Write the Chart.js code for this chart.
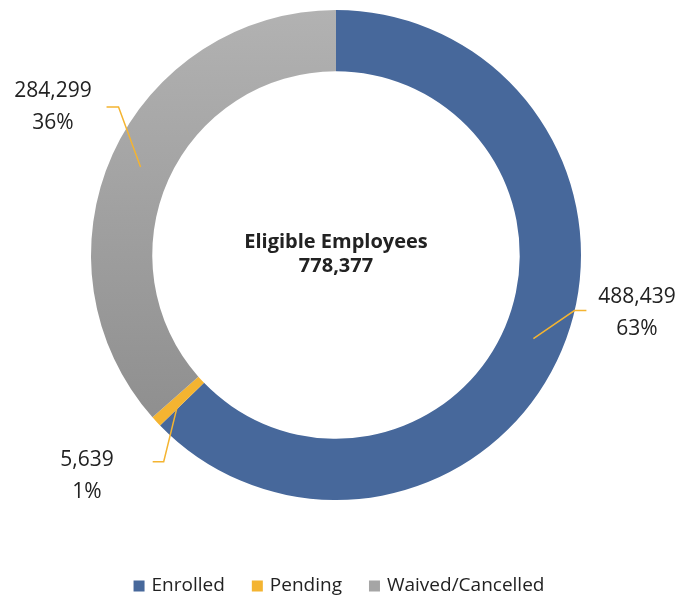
<!DOCTYPE html>
<html>
<head>
<meta charset="utf-8">
<script src="https://cdn.jsdelivr.net/npm/chart.js@4/dist/chart.umd.min.js"></script>
<style>
  html, body { margin: 0; padding: 0; background: #fff; }
  canvas { display: block; }
</style>
</head>
<body>
<canvas id="chart" width="680" height="599"></canvas>
<script>
const categories = ["Enrolled", "Pending", "Waived/Cancelled"];
const employees = [488439, 5639, 284299];
const percentLabels = ["63%", "1%", "36%"];
const centerTitle = "Eligible Employees";

const sliceColors = ["#47689b", "#f4b431", "#a5a5a5"]; // gray is drawn as a gradient on the ring
const textColor = "#222222";
const leaderColor = "#f4b431";
const labelFont = "21px 'Open Sans'";

// leader line elbows (relative to the anchor inside the ring) and first label line (relative to centre)
const labelLayout = [
  { elbow: [41, -28], tail: 12, text: [301, 42] },
  { elbow: [-15, 61], tail: -11, text: [-249, 205] },
  { elbow: [-22, -60], tail: -12, text: [-283, -164] }
];

function sliceFill(context) {
  const i = context.dataIndex;
  const area = context.chart.chartArea;
  if (i !== 2 || !area) return sliceColors[i];
  const g = context.chart.ctx.createLinearGradient(0, area.top, 0, area.top + 420);
  g.addColorStop(0, "#b2b2b2");
  g.addColorStop(1, "#8e8e8e");
  return g;
}

// data labels with leader lines, plus the centre title
const leaderLabels = {
  id: "leaderLabels",
  afterDatasetsDraw(chart) {
    const ctx = chart.ctx;
    const arcs = chart.getDatasetMeta(0).data;
    ctx.save();
    arcs.forEach((arc, i) => {
      const p = arc.getProps(["x", "y", "startAngle", "endAngle", "innerRadius", "outerRadius"], true);
      const mid = (p.startAngle + p.endAngle) / 2;
      const r = (p.innerRadius + p.outerRadius) / 2;
      const ax = p.x + Math.cos(mid) * r;
      const ay = p.y + Math.sin(mid) * r;
      const lay = labelLayout[i];
      const ex = ax + lay.elbow[0], ey = ay + lay.elbow[1];

      ctx.strokeStyle = leaderColor;
      ctx.lineWidth = 1.5;
      ctx.beginPath();
      ctx.moveTo(ax, ay);
      ctx.lineTo(ex, ey);
      ctx.lineTo(ex + lay.tail, ey);
      ctx.stroke();

      ctx.fillStyle = textColor;
      ctx.font = labelFont;
      ctx.textAlign = "center";
      ctx.textBaseline = "middle";
      const tx = p.x + lay.text[0], ty = p.y + lay.text[1];
      ctx.fillText(employees[i].toLocaleString("en-US"), tx, ty);
      ctx.fillText(percentLabels[i], tx, ty + 32);
    });

    const c = arcs[0];
    const total = employees.reduce((a, b) => a + b, 0);
    ctx.font = "bold 20px 'Open Sans'";
    ctx.fillText(centerTitle, c.x, c.y - 13);
    ctx.fillText(total.toLocaleString("en-US"), c.x, c.y + 11);
    ctx.restore();
  }
};

// legend row at the bottom
const bottomLegend = {
  id: "bottomLegend",
  afterDraw(chart) {
    const ctx = chart.ctx;
    const box = 11, gap = 7, itemGap = 27;
    ctx.save();
    ctx.font = "19px 'Open Sans'";
    const widths = categories.map(t => box + gap + ctx.measureText(t).width);
    const totalW = widths.reduce((a, b) => a + b, 0) + itemGap * (categories.length - 1);
    let x = 339 - totalW / 2;
    const y = 586;
    categories.forEach((t, i) => {
      ctx.fillStyle = sliceColors[i];
      ctx.fillRect(x, y - box / 2, box, box);
      ctx.fillStyle = textColor;
      ctx.textAlign = "left";
      ctx.textBaseline = "middle";
      ctx.fillText(t, x + box + gap, y);
      x += widths[i] + itemGap;
    });
    ctx.restore();
  }
};

new Chart(document.getElementById("chart"), {
  type: "doughnut",
  data: {
    labels: categories,
    datasets: [{
      data: employees,
      backgroundColor: sliceFill,
      borderWidth: 0,
      hoverOffset: 0,
      offset: 0
    }]
  },
  options: {
    responsive: false,
    animation: false,
    cutout: "75%",
    rotation: 0,
    layout: { padding: { top: 10, bottom: 99, left: 0, right: 8 } },
    plugins: {
      legend: { display: false },
      tooltip: { enabled: false }
    }
  },
  plugins: [leaderLabels, bottomLegend]
});
</script>
</body>
</html>
